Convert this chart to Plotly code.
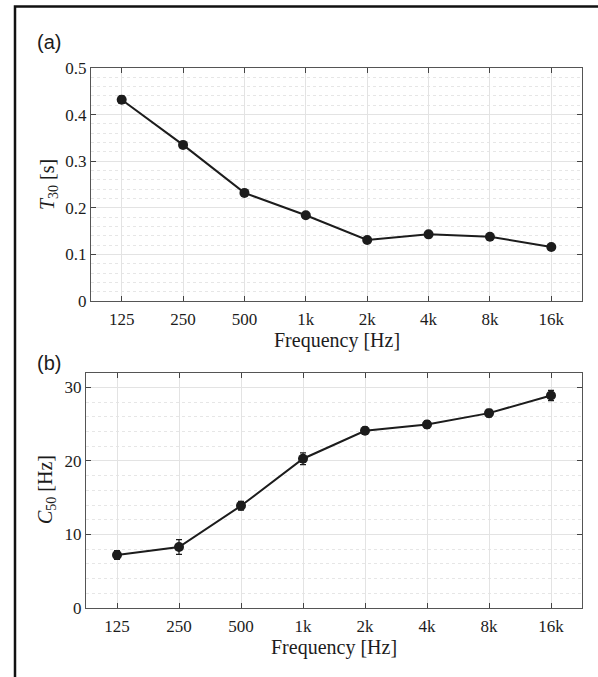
import plotly.graph_objects as go

freq_labels = ["125", "250", "500", "1k", "2k", "4k", "8k", "16k"]
t30_values = [0.432, 0.335, 0.232, 0.184, 0.131, 0.143, 0.138, 0.116]
t30_errors = [0.008, 0.004, 0.004, 0.004, 0.004, 0.003, 0.004, 0.004]
c50_values = [7.2, 8.3, 13.9, 20.3, 24.1, 24.95, 26.5, 28.9]
c50_errors = [0.6, 1.0, 0.6, 0.8, 0.5, 0.5, 0.5, 0.7]
t30_ticks = [0, 0.1, 0.2, 0.3, 0.4, 0.5]
t30_ticktext = ["0", "0.1", "0.2", "0.3", "0.4", "0.5"]
c50_ticks = [0, 10, 20, 30]

W, H = 598, 677
def px(x): return x / W
def py(y): return (H - y) / H

serif = "Liberation Serif, Times New Roman, serif"
sans = "Liberation Sans, Arial, sans-serif"
ink = "#1c1c1c"

fig = go.Figure()
fig.add_trace(go.Scatter(
    x=freq_labels, y=t30_values, mode="lines+markers",
    line=dict(color=ink, width=2), marker=dict(color=ink, size=10),
    error_y=dict(type="data", array=t30_errors, color=ink, thickness=1.2, width=3),
    xaxis="x", yaxis="y", showlegend=False))
fig.add_trace(go.Scatter(
    x=freq_labels, y=c50_values, mode="lines+markers",
    line=dict(color=ink, width=2), marker=dict(color=ink, size=10),
    error_y=dict(type="data", array=c50_errors, color=ink, thickness=1.2, width=3),
    xaxis="x2", yaxis="y2", showlegend=False))

common_x = dict(type="category", categoryorder="array", categoryarray=freq_labels,
                range=[-0.5, 7.5], showgrid=True, gridcolor="#e3e3e3", gridwidth=1,
                ticks="inside", ticklen=5, tickcolor="#444", showline=True, linecolor="#555",
                linewidth=1, mirror="ticks", zeroline=False, automargin=False,
                ticklabelstandoff=3,
                tickfont=dict(family=serif, size=17, color=ink))
common_y = dict(showgrid=True, gridcolor="#e3e3e3", gridwidth=1,
                ticks="inside", ticklen=5, tickcolor="#444", showline=True, linecolor="#555",
                linewidth=1, mirror="ticks", zeroline=False, automargin=False,
                tickfont=dict(family=serif, size=17, color=ink))

fig.update_layout(
    width=W, height=H, margin=dict(l=0, r=0, t=0, b=0, autoexpand=False),
    paper_bgcolor="white", plot_bgcolor="white",
    xaxis=dict(common_x, domain=[px(91), px(582)], anchor="y"),
    yaxis=dict(common_y, domain=[py(301), py(68)], anchor="x", range=[0, 0.5],
               tickvals=t30_ticks, ticktext=t30_ticktext,
               minor=dict(dtick=0.02, tick0=0, showgrid=True, gridcolor="#e6e6e6", griddash="dot", ticks="")),
    xaxis2=dict(common_x, domain=[px(86), px(582)], anchor="y2"),
    yaxis2=dict(common_y, domain=[py(608), py(372.7)], anchor="x2", range=[0, 32],
                tickvals=c50_ticks,
                minor=dict(dtick=2, tick0=0, showgrid=True, gridcolor="#e6e6e6", griddash="dot", ticks="")),
)

ann = [
    dict(text="(a)", x=px(35), y=py(42), xanchor="left", yanchor="middle",
         font=dict(family=sans, size=20, color=ink)),
    dict(text="(b)", x=px(35), y=py(363), xanchor="left", yanchor="middle",
         font=dict(family=sans, size=20, color=ink)),
    dict(text="Frequency [Hz]", x=px(337), y=py(340), xanchor="center", yanchor="middle",
         font=dict(family=serif, size=20, color=ink)),
    dict(text="Frequency [Hz]", x=px(334), y=py(647), xanchor="center", yanchor="middle",
         font=dict(family=serif, size=20, color=ink)),
    dict(text="<i>T</i><sub>30</sub> [s]", x=px(48), y=py(185), xanchor="center", yanchor="middle",
         textangle=-90, font=dict(family=serif, size=20, color=ink)),
    dict(text="<i>C</i><sub>50</sub> [Hz]", x=px(46), y=py(490), xanchor="center", yanchor="middle",
         textangle=-90, font=dict(family=serif, size=20, color=ink)),
]
for a in ann:
    a.update(xref="paper", yref="paper", showarrow=False)
fig.update_layout(annotations=ann)

fig.add_shape(type="rect", xref="paper", yref="paper",
              x0=px(15), x1=1.2, y0=-0.2, y1=py(6.5),
              line=dict(color="#111", width=2.5))

post = (
    "var de=document.documentElement, b=document.body;"
    "[de,b].forEach(function(e){e.style.margin='0';e.style.padding='0';"
    "e.style.overflow='hidden';});"
)
fig.write_html("out.html", config={"displayModeBar": False}, post_script=post)
